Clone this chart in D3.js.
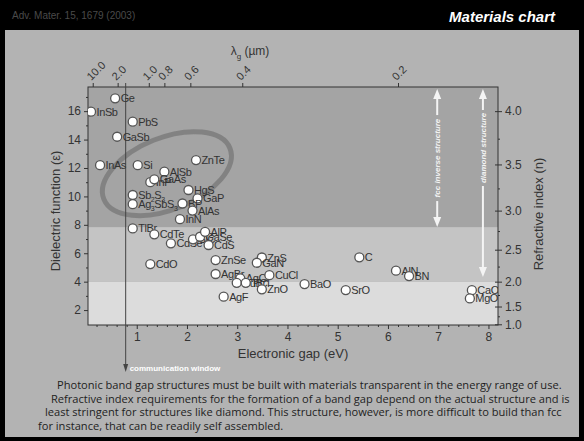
<!DOCTYPE html>
<html>
<head>
<meta charset="utf-8">
<script src="https://cdn.jsdelivr.net/npm/d3@7"></script>
<style>
  body { margin: 0; background: #000; }
  text { font-family: "Liberation Sans", Arial, sans-serif; }
</style>
</head>
<body>
<svg id="chart" width="584" height="441"></svg>
<script>
// materials, their electronic gap (eV) and dielectric function (eps)
const materials = ["InSb", "Ge", "GaSb", "PbS", "InAs", "Si", "ZnTe", "AlSb", "InP", "GaAs",
  "Sb2S3", "Ag3SbS3", "HgS", "GaP", "BP", "AlAs", "InN", "TlBr", "CdTe", "CdSe",
  "CdO", "SiC", "GaSe", "AlP", "CdS", "ZnSe", "AgBr", "ZnS", "GaN", "AgCl",
  "CuBr", "TlCl", "CuCl", "ZnO", "AgF", "BaO", "SrO", "C", "AlN", "BN",
  "CaO", "MgO"];
const gapEV = [0.09, 0.57, 0.61, 0.92, 0.27, 1.02, 2.18, 1.55, 1.27, 1.35,
  0.92, 0.92, 2.03, 2.21, 1.91, 2.11, 1.86, 0.92, 1.35, 1.68,
  1.27, 2.12, 2.26, 2.36, 2.43, 2.57, 2.57, 3.49, 3.39, 3.06,
  2.99, 3.17, 3.64, 3.49, 2.73, 4.34, 5.16, 5.43, 6.16, 6.42,
  7.67, 7.63];
const dielectric = [15.96, 16.9, 14.2, 15.26, 12.2, 12.2, 12.56, 11.74, 11.0, 11.2,
  10.1, 9.45, 10.45, 9.86, 9.5, 9.0, 8.4, 7.75, 7.33, 6.7,
  5.24, 6.98, 7.16, 7.51, 6.58, 5.52, 4.54, 5.7, 5.33, 4.23,
  3.92, 3.92, 4.46, 3.46, 2.94, 3.83, 3.41, 5.71, 4.77, 4.39,
  3.4, 2.82];

const gapTicks = [1, 2, 3, 4, 5, 6, 7, 8];
const epsTicks = [2, 4, 6, 8, 10, 12, 14, 16];
const nTicks = [1.0, 1.5, 2.0, 2.5, 3.0, 3.5, 4.0];
const lambdaTicks = [10.0, 2.0, 1.0, 0.8, 0.6, 0.4, 0.2];
const lambdaLabels = ["10.0", "2.0", "1.0", "0.8", "0.6", "0.4", "0.2"];

// eps limits of the shaded bands (n = 2.0 and n = 2.8)
const bandEdges = [0.95, 4.0, 7.84, 17.7];
// structure arrows: gap position, lowest eps reached
const structures = ["fcc inverse structure", "diamond structure"];
const structureGap = [6.98, 7.89];
const structureEps = [7.84, 4.33];
const telecomGap = 0.78;

const caption = [
  "Photonic band gap structures must be built with materials transparent in the energy range of use.",
  "Refractive index requirements for the formation of a band gap depend on the actual structure and is",
  "least stringent for structures like diamond. This structure, however, is more difficult to build than fcc",
  "for instance, that can be readily self assembled."
];

const svg = d3.select("#chart");

const x = d3.scaleLinear().domain([0.03, 8.19]).range([88, 498]);
const y = d3.scaleLinear().domain([0.95, 17.7]).range([325, 87]);
const yn = d3.scalePow().exponent(2)
  .domain([Math.sqrt(0.95), Math.sqrt(17.7)]).range([325, 87]);

// frame + header
svg.append("rect").attr("width", 584).attr("height", 441).attr("fill", "#000");
svg.append("rect").attr("x", 5).attr("y", 30).attr("width", 574).attr("height", 407)
  .attr("fill", "#b3b3b3");
svg.append("text").attr("x", 12).attr("y", 19).attr("fill", "#4a4a4a")
  .style("font-size", "10px").text("Adv. Mater. 15, 1679 (2003)");
svg.append("text").attr("x", 555).attr("y", 22).attr("fill", "#fff")
  .attr("text-anchor", "end")
  .style("font-size", "15px").style("font-weight", "bold").style("font-style", "italic")
  .text("Materials chart");

// bands
const bandFill = ["#dcdcdc", "#c4c4c4", "#a4a4a4"];
svg.append("g").selectAll("rect")
  .data(d3.range(3))
  .join("rect")
  .attr("x", x.range()[0])
  .attr("width", x.range()[1] - x.range()[0])
  .attr("y", i => y(bandEdges[i + 1]))
  .attr("height", i => y(bandEdges[i]) - y(bandEdges[i + 1]))
  .attr("fill", i => bandFill[i]);

// highlight ellipse round the semiconductors
svg.append("ellipse")
  .attr("cx", x(1.6)).attr("cy", y(11.6))
  .attr("rx", 68).attr("ry", 36)
  .attr("transform", `rotate(-22,${x(1.6)},${y(11.6)})`)
  .attr("fill", "none").attr("stroke", "#7c7c7c").attr("stroke-width", 5)
  .attr("opacity", 0.85);

// structure arrows
function arrowHead(g, cx, cy, dir, col, w, h) {
  g.append("path")
    .attr("d", `M${cx - w / 2},${cy - dir * h}L${cx + w / 2},${cy - dir * h}L${cx},${cy}Z`)
    .attr("fill", col);
}
const sg = svg.append("g");
structures.forEach((s, i) => {
  const cx = x(structureGap[i]);
  const top = y(17.7) + 2, bot = y(structureEps[i]);
  const mid = (top + bot) / 2 - (i === 0 ? 0 : 35);
  const half = (i === 0 ? 43 : 38);
  sg.append("line").attr("x1", cx).attr("x2", cx).attr("y1", top + 8).attr("y2", mid - half)
    .attr("stroke", "#f4f4f4").attr("stroke-width", 2);
  sg.append("line").attr("x1", cx).attr("x2", cx).attr("y1", mid + half).attr("y2", bot - 8)
    .attr("stroke", "#f4f4f4").attr("stroke-width", 2);
  arrowHead(sg, cx, top, -1, "#f4f4f4", 8, 10);
  arrowHead(sg, cx, bot, 1, "#f4f4f4", 8, 10);
  sg.append("text")
    .attr("transform", `translate(${cx + 3},${mid}) rotate(-90)`)
    .attr("text-anchor", "middle").attr("fill", "#f4f4f4")
    .style("font-size", "8px").style("font-weight", "bold").style("font-style", "italic")
    .style("font-family", "'Liberation Sans Narrow', 'Liberation Sans', sans-serif")
    .text(s);
});

// axes
function styleAxis(g) {
  g.select(".domain").remove();
  g.selectAll("line").attr("stroke", "#333");
  g.selectAll("text").attr("fill", "#333").style("font-size", "12px");
}
svg.append("g").attr("transform", `translate(${x.range()[0]},0)`)
  .call(d3.axisLeft(y).tickValues(epsTicks).tickSize(4).tickPadding(3)).call(styleAxis);
svg.append("g").attr("transform", `translate(${x.range()[0]},0)`)
  .call(d3.axisLeft(y).tickValues([3, 5, 7, 9, 11, 13, 15, 17]).tickSize(2).tickFormat(""))
  .call(styleAxis);

svg.append("g").attr("transform", `translate(${x.range()[1]},0)`)
  .call(d3.axisRight(yn).tickValues(nTicks).tickFormat(d3.format(".1f")).tickSize(4).tickPadding(3))
  .call(styleAxis);
svg.append("g").attr("transform", `translate(${x.range()[1]},0)`)
  .call(d3.axisRight(yn).tickValues(nTicks).tickSize(-3).tickFormat("")).call(styleAxis);
svg.append("g").attr("transform", `translate(${x.range()[1]},0)`)
  .call(d3.axisRight(yn).tickValues([1.25, 1.75, 2.25, 2.75, 3.25, 3.75]).tickSize(2).tickFormat(""))
  .call(styleAxis);

svg.append("g").attr("transform", `translate(0,${y.range()[0]})`)
  .call(d3.axisBottom(x).tickValues(gapTicks).tickSize(4).tickPadding(3)).call(styleAxis);
svg.append("g").attr("transform", `translate(0,${y.range()[0]})`)
  .call(d3.axisBottom(x).tickValues(d3.range(1, 41).map(k => k * 0.2).filter(v => Math.abs(v - Math.round(v)) > 0.01))
    .tickSize(2).tickFormat("")).call(styleAxis);

const topAxis = svg.append("g").attr("transform", `translate(0,${y.range()[1]})`)
  .call(d3.axisTop(x).tickValues(lambdaTicks.map(l => 1.24 / l))
    .tickFormat((d, i) => lambdaLabels[i]).tickSize(4))
  .call(styleAxis);
topAxis.selectAll("text")
  .attr("x", 0).attr("y", 0).attr("dy", 0)
  .attr("transform", "translate(-2,-6) rotate(-45)")
  .style("text-anchor", "start").style("font-size", "11px");

// plot frame
svg.append("rect")
  .attr("x", x.range()[0]).attr("y", y.range()[1])
  .attr("width", x.range()[1] - x.range()[0]).attr("height", y.range()[0] - y.range()[1])
  .attr("fill", "none").attr("stroke", "#333").attr("stroke-width", 1);

// axis titles
svg.append("text").attr("transform", `translate(60,${(y.range()[0] + y.range()[1]) / 2 + 5}) rotate(-90)`)
  .attr("text-anchor", "middle").attr("fill", "#333").style("font-size", "13px")
  .text("Dielectric function (\u03b5)");
svg.append("text").attr("transform", `translate(543,${(y.range()[0] + y.range()[1]) / 2 + 8}) rotate(-90)`)
  .attr("text-anchor", "middle").attr("fill", "#333").style("font-size", "13px")
  .text("Refractive index (n)");
svg.append("text").attr("x", 293).attr("y", 358)
  .attr("text-anchor", "middle").attr("fill", "#333").style("font-size", "13px")
  .text("Electronic gap (eV)");
const lt = svg.append("text").attr("x", 250).attr("y", 55)
  .attr("text-anchor", "middle").attr("fill", "#333").style("font-size", "12px");
lt.append("tspan").text("\u03bb");
lt.append("tspan").attr("dy", 4).style("font-size", "8px").text("g");
lt.append("tspan").attr("dy", -4).text(" (\u00b5m)");

// communication window line
const cw = x(telecomGap);
svg.append("line").attr("x1", cw).attr("x2", cw).attr("y1", y.range()[1] - 4).attr("y2", 366)
  .attr("stroke", "#444").attr("stroke-width", 1);
arrowHead(svg, cw, 372, 1, "#444", 5, 8);
svg.append("text").attr("x", cw + 4).attr("y", 371).attr("fill", "#fff")
  .style("font-size", "8px").style("font-weight", "bold")
  .style("font-family", "'Liberation Sans Narrow', 'Liberation Sans', sans-serif")
  .text("communication window");

// points
const clipId = "plotclip";
svg.append("clipPath").attr("id", clipId).append("rect")
  .attr("x", x.range()[0]).attr("y", y.range()[1])
  .attr("width", x.range()[1] - x.range()[0]).attr("height", y.range()[0] - y.range()[1]);

const pts = svg.append("g").attr("clip-path", `url(#${clipId})`)
  .selectAll("g").data(d3.range(materials.length)).join("g")
  .attr("transform", i => `translate(${x(gapEV[i])},${y(dielectric[i])})`);

pts.append("circle").attr("r", 4.5).attr("fill", "#fff")
  .attr("stroke", "#555").attr("stroke-width", 1.3);

pts.append("text").attr("x", 5.5).attr("y", 4)
  .attr("fill", "#333").style("font-size", "11px").style("letter-spacing", "-0.4px")
  .each(function (i) {
    const t = d3.select(this);
    const parts = materials[i].match(/[A-Za-z]+|\d+/g);
    let shifted = false;
    parts.forEach(p => {
      const isNum = /\d/.test(p);
      const ts = t.append("tspan").text(p);
      if (isNum && !shifted) { ts.attr("dy", 3).style("font-size", "7px"); shifted = true; }
      else if (isNum) ts.style("font-size", "7px");
      else if (shifted) { ts.attr("dy", -3); shifted = false; }
    });
  });

// caption
const capX = [57, 51, 45, 38];
svg.append("g").selectAll("text").data(caption).join("text")
  .attr("x", (d, i) => capX[i]).attr("y", (d, i) => 389 + i * 13.5)
  .attr("fill", "#1e1e1e").style("font-size", "11.1px")
  .style("font-family", "'Open Sans', 'Noto Sans', sans-serif")
  .text(d => d);
</script>
</body>
</html>
